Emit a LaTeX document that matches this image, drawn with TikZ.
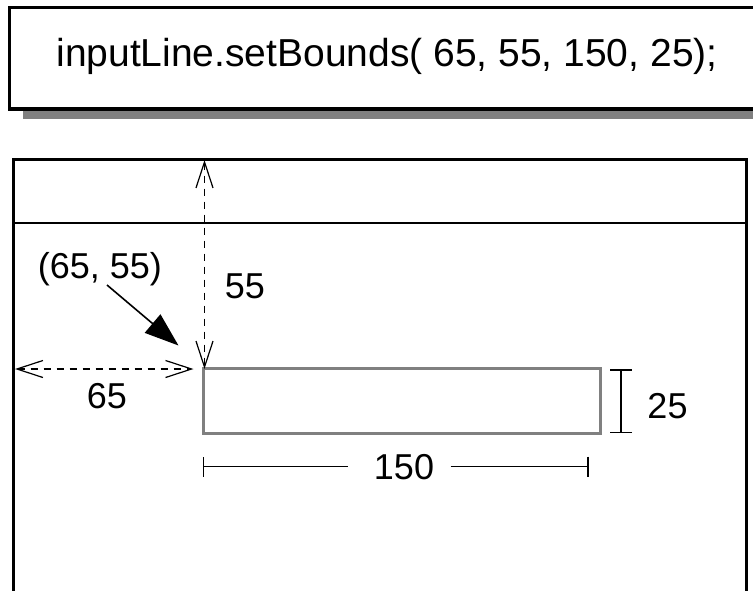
\documentclass[tikz,border=0pt]{standalone}
\usepackage{fontspec}
\setmainfont{Liberation Sans}
\usetikzlibrary{arrows.meta}
\definecolor{shadowgray}{RGB}{128,128,128}
\tikzset{
  frame/.style={draw=black, line width=2.5pt},
  codebox/.style={draw=black, line width=3.5pt},
  lbl/.style={inner sep=0pt, anchor=base, font=\fontsize{36}{38}\selectfont},
  codetext/.style={inner sep=0pt, anchor=base, font=\fontsize{39}{41}\selectfont},
  dimarrow/.style={line width=1.8pt, dash pattern=on 7pt off 6pt,
    {Straight Barb[length=26pt,width=17pt,line width=1.2pt]}-{Straight Barb[length=26pt,width=17pt,line width=1.2pt]}},
  bigarrow/.style={line width=1.6pt, -{Triangle[length=34pt,width=24pt]}},
  dimbar/.style={line width=1.5pt},
  inputrect/.style={draw=shadowgray, line width=3pt},
}
\begin{document}
\begin{tikzpicture}[x=1pt,y=-1pt]
\useasboundingbox (0,0) rectangle (753,590);
\clip (0,0) rectangle (753,590);
% top code box with shadow
\fill[shadowgray] (22.7,110.5) rectangle (800,118.5);
\draw[codebox] (9.5,7.5) rectangle (800,109);
\node[codetext] (code) at (387,66) {inputLine.setBounds( 65, 55, 150, 25);};
% window frame
\draw[frame] (13.5,700) -- (13.5,159.3) -- (746.3,159.3) -- (746.3,700);
\draw[frame] (13.5,222.8) -- (746.3,222.8);
% input rectangle
\node[inputrect, minimum width=397.3pt, minimum height=65pt, inner sep=0pt, anchor=north west] (field) at (201.7,366.7) {};
% coordinates for dimension lines
\coordinate (top) at (204.5,160);
\coordinate (vtip) at (204.5,369);
\coordinate (left) at (15,369);
\coordinate (htip) at (193.5,369);
\draw[dimarrow] (top) -- (vtip);
\draw[dimarrow] (left) -- (htip);
% labels
\node[lbl] (l55) at (245,298) {55};
\node[lbl] (l6555) at (100,278) {(65, 55)};
\node[lbl] (l65) at (107,408) {65};
\node[lbl] (l25) at (667.5,418) {25};
\node[lbl] (l150) at (404,479) {150};
% big arrow
\coordinate (astart) at (107,285);
\coordinate (aend) at (178.5,345.5);
\draw[bigarrow] (astart) -- (aend);
% 25 bracket
\coordinate (b1) at (621,369);
\coordinate (b2) at (621,433);
\draw[dimbar, {Bar[width=22pt,line width=1.5pt]}-{Bar[width=22pt,line width=1.5pt]}] (b1) -- (b2);
% 150 line
\coordinate (w1) at (202.5,466.5);
\coordinate (w1e) at (348,466.5);
\coordinate (w2s) at (450.6,466.5);
\coordinate (w2) at (588.5,466.5);
\draw[dimbar, {Bar[width=20pt,line width=1.5pt]}-] (w1) -- (w1e);
\draw[dimbar, -{Bar[width=20pt,line width=1.5pt]}] (w2s) -- (w2);
\end{tikzpicture}
\end{document}
